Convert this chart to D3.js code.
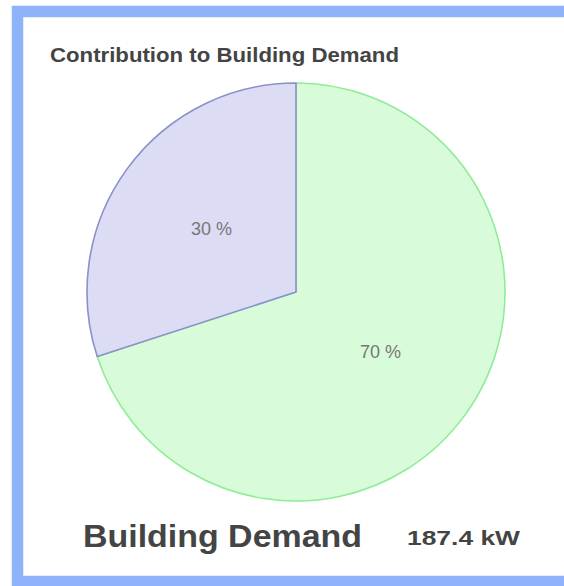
<!DOCTYPE html>
<html>
<head>
<meta charset="utf-8">
<script src="https://cdn.jsdelivr.net/npm/d3@7"></script>
<style>
  html, body { margin: 0; padding: 0; background: #fff; }
  #container { width: 564px; height: 586px; overflow: hidden; }
  text { font-family: "Liberation Sans", Arial, sans-serif; }
</style>
</head>
<body>
<div id="container"></div>
<script>
// Data
const categories = ["Other", "Building"];
const shares = [30, 70]; // percent
const fills = ["#dcdcf4", "#d8fcda"];
const strokes = ["#8a90c8", "#8fec98"];
const titleText = "Contribution to Building Demand";
const footerLabel = "Building Demand";
const footerValue = "187.4 kW";

const svg = d3
  .select("#container")
  .append("svg")
  .attr("width", 564)
  .attr("height", 586);

// Blue frame (right edge runs off the picture)
svg
  .append("rect")
  .attr("x", 17.5)
  .attr("y", 11.5)
  .attr("width", 620)
  .attr("height", 570)
  .attr("fill", "#fff")
  .attr("stroke", "#8fb3fa")
  .attr("stroke-width", 11.5);

// Title
svg
  .append("text")
  .attr("x", 50)
  .attr("y", 62)
  .attr("font-size", 20)
  .attr("font-weight", "bold")
  .attr("fill", "#444")
  .attr("textLength", 349)
  .attr("lengthAdjust", "spacingAndGlyphs")
  .text(titleText);

// Pie
const radius = 209;
const g = svg.append("g").attr("transform", "translate(296,292)");

const pie = d3
  .pie()
  .sort(null)
  .value((d) => d.value)
  .startAngle(0)
  .endAngle(-2 * Math.PI);

const data = categories.map((c, i) => ({ name: c, value: shares[i], i: i }));
const arcs = pie(data);
const arc = d3.arc().innerRadius(0).outerRadius(radius);

// draw the big green slice first so the purple edge sits on top
g.selectAll(".slice")
  .data(arcs.slice().reverse())
  .enter()
  .append("path")
  .attr("class", "slice")
  .attr("d", arc)
  .attr("fill", (d) => fills[d.data.i])
  .attr("stroke", (d) => strokes[d.data.i])
  .attr("stroke-width", 1.6)
  .attr("stroke-linejoin", "round");

g.selectAll(".label")
  .data(arcs)
  .enter()
  .append("text")
  .attr("class", "label")
  .attr("transform", (d) => "translate(" + arc.centroid(d) + ")")
  .attr("dy", "0.25em")
  .attr("text-anchor", "middle")
  .attr("font-size", 18)
  .attr("fill", "#777")
  .text((d) => d.data.value + " %");

// Footer
svg
  .append("text")
  .attr("x", 83)
  .attr("y", 547)
  .attr("font-size", 31)
  .attr("font-weight", "bold")
  .attr("fill", "#444")
  .attr("textLength", 279)
  .attr("lengthAdjust", "spacingAndGlyphs")
  .text(footerLabel);

svg
  .append("text")
  .attr("x", 407)
  .attr("y", 545)
  .attr("font-size", 21)
  .attr("font-weight", "bold")
  .attr("fill", "#444")
  .attr("textLength", 113)
  .attr("lengthAdjust", "spacingAndGlyphs")
  .text(footerValue);
</script>
</body>
</html>
